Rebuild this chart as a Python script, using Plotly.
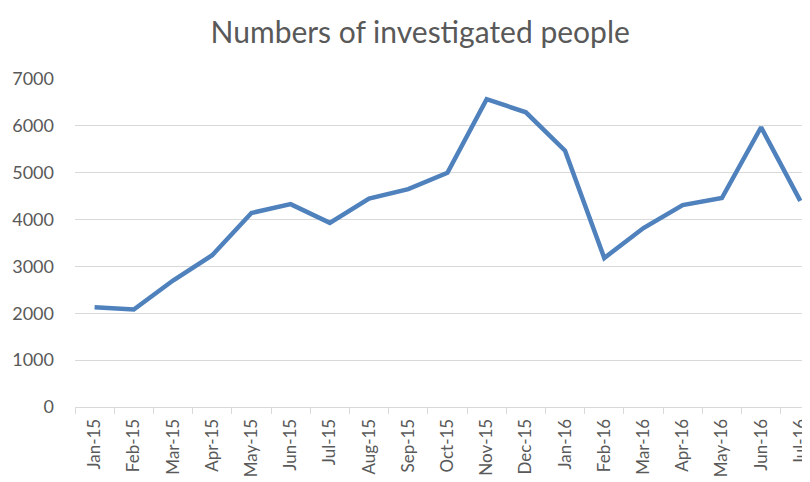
import plotly.graph_objects as go

months = ["Jan-15", "Feb-15", "Mar-15", "Apr-15", "May-15", "Jun-15", "Jul-15", "Aug-15",
          "Sep-15", "Oct-15", "Nov-15", "Dec-15", "Jan-16", "Feb-16", "Mar-16", "Apr-16",
          "May-16", "Jun-16", "Jul-16"]
investigated = [2130, 2080, 2700, 3240, 4140, 4330, 3930, 4450, 4650, 5000, 6570, 6290,
                5470, 3180, 3820, 4310, 4460, 5970, 4400]

fig = go.Figure()
fig.add_trace(go.Scatter(
    x=months, y=investigated, mode="lines",
    line=dict(color="#4F81BD", width=4.5),
    hoverinfo="x+y",
))

# page body has an 8px margin, so the figure is sized/offset to land where the reference is
fig.update_layout(
    width=802, height=474,
    margin=dict(l=67, r=0, t=71, b=75),
    paper_bgcolor="white", plot_bgcolor="white",
    showlegend=False,
    title=dict(text="Numbers of investigated people", x=0.514, xanchor="center",
               y=0.949, yanchor="middle",
               font=dict(family="Lato", size=30, color="#595959")),
    font=dict(family="Lato", color="#595959"),
)
fig.update_xaxes(
    type="category", range=[-0.5, 18.12],
    tickangle=-90, tickson="boundaries", ticks="outside", ticklen=6, tickcolor="#D9D9D9",
    showline=True, linecolor="#D9D9D9", linewidth=1, ticklabelstandoff=4,
    showgrid=False, tickfont=dict(size=17, color="#595959"),
)
fig.update_yaxes(
    range=[0, 7000], tickvals=[0, 1000, 2000, 3000, 4000, 5000, 6000, 7000],
    showgrid=True, gridcolor="#D9D9D9", gridwidth=1, zeroline=False,
    showline=False, ticks="", ticklabelstandoff=20,
    tickfont=dict(size=18, color="#595959"),
)

fig.write_html("out.html")
